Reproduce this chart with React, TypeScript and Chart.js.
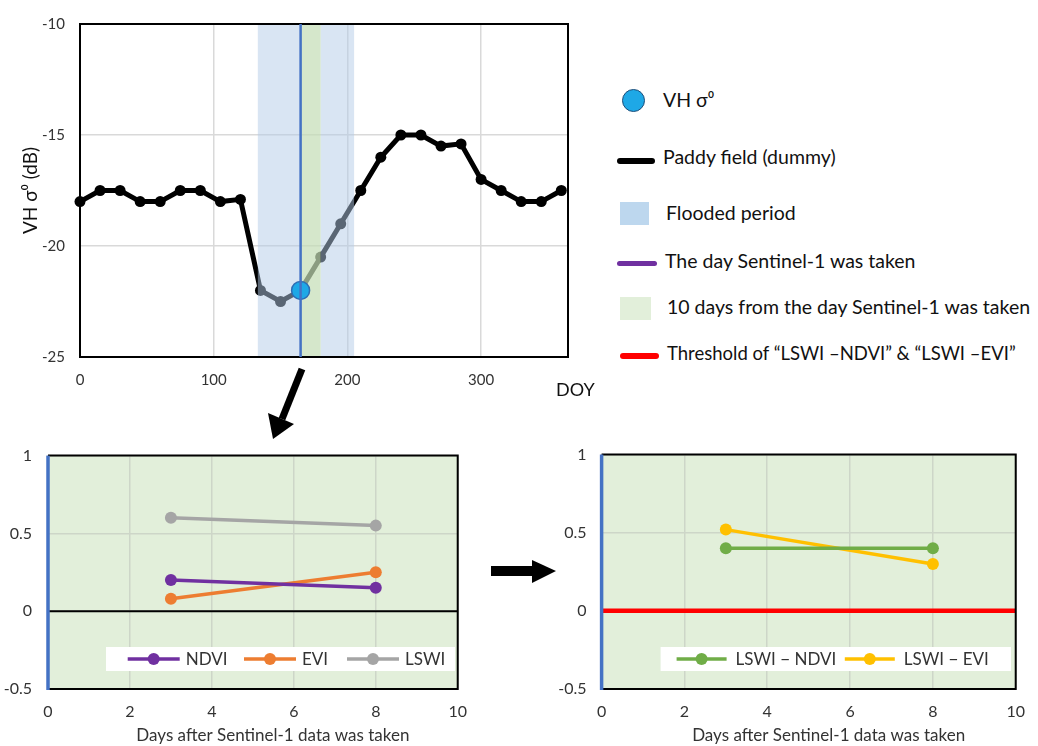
import React, { useEffect, useRef } from "react";
import { Chart, registerables } from "chart.js";

Chart.register(...registerables);

const FONT = "Lato, 'Open Sans', sans-serif";
Chart.defaults.font.family = FONT;

// ---- Top chart data ----
const doy = [0, 15, 30, 45, 60, 75, 90, 105, 120, 135, 150, 165, 180, 195, 210, 225, 240, 255, 270, 285, 300, 315, 330, 345, 360];
const paddyVH = [-18, -17.5, -17.5, -18, -18, -17.5, -17.5, -18, -17.9, -22, -22.5, -22, -20.5, -19, -17.5, -16, -15, -15, -15.5, -15.4, -17, -17.5, -18, -18, -17.5];
const sentinelDay = 165;
const sentinelVH = -22;
const floodStart = 133;
const floodEnd = 205;
const windowEnd = 180;
const topXRange = [0, 365];
const topYRange = [-25, -10];

// ---- Bottom charts data ----
const days = [3, 8];
const ndvi = [0.2, 0.15];
const evi = [0.08, 0.25];
const lswi = [0.6, 0.55];
const lswiMinusNdvi = [0.4, 0.4];
const lswiMinusEvi = [0.52, 0.3];
const threshold = 0;
const bottomXRange = [0, 10];
const bottomYRange = [-0.5, 1];
const bottomXTitle = "Days after Sentinel-1 data was taken";

const TICK_COLOR = "#333333";

const topOverlay = {
  id: "topOverlay",
  afterDatasetDraw(chart: any, args: any) {
    if (args.index !== 0) return;
    const { ctx, chartArea: a, scales } = chart;
    const x = scales.x;
    const band = (from: number, to: number, color: string) => {
      const x0 = x.getPixelForValue(from);
      const x1 = x.getPixelForValue(to);
      ctx.fillStyle = color;
      ctx.fillRect(x0, a.top, x1 - x0, a.bottom - a.top);
    };
    ctx.save();
    band(floodStart, sentinelDay, "rgba(180,203,231,0.5)");
    band(windowEnd, floodEnd, "rgba(180,203,231,0.5)");
    band(sentinelDay, windowEnd, "rgba(196,221,182,0.71)");
    ctx.strokeStyle = "#000";
    ctx.lineWidth = 2;
    ctx.strokeRect(a.left, a.top, a.right - a.left, a.bottom - a.top);
    ctx.restore();
  },
  afterDatasetsDraw(chart: any) {
    const { ctx, chartArea: a, scales } = chart;
    const xs = scales.x.getPixelForValue(sentinelDay);
    ctx.save();
    ctx.strokeStyle = "#4472c4";
    ctx.lineWidth = 2.5;
    ctx.beginPath();
    ctx.moveTo(xs, a.top);
    ctx.lineTo(xs, a.bottom);
    ctx.stroke();
    ctx.restore();
  },
};

const topConfig = (): any => ({
  type: "line",
  data: {
    datasets: [
      {
        label: "Paddy field (dummy)",
        data: doy.map((d, i) => ({ x: d, y: paddyVH[i] })),
        borderColor: "#000",
        backgroundColor: "#000",
        borderWidth: 5,
        pointRadius: 5.5,
        pointBorderWidth: 0,
        order: 2,
        clip: false,
      },
      {
        label: "VH σ⁰",
        data: [{ x: sentinelDay, y: sentinelVH }],
        showLine: false,
        pointRadius: 9,
        pointBorderWidth: 1.5,
        backgroundColor: "#1ea8e6",
        borderColor: "#2e6db4",
        order: 1,
        clip: false,
      },
    ],
  },
  options: {
    animation: false,
    responsive: false,
    layout: { padding: { top: 18, right: 32, left: 0, bottom: 0 } },
    plugins: { legend: { display: false }, tooltip: { enabled: false } },
    scales: {
      x: {
        type: "linear",
        min: topXRange[0],
        max: topXRange[1],
        ticks: { stepSize: 100, includeBounds: false, padding: 14, color: TICK_COLOR, font: { size: 15 } },
        grid: { color: "#d9d9d9", lineWidth: 1.5, drawTicks: false },
        border: { display: false },
        afterFit: (s: any) => {
          s.height = 43;
        },
      },
      y: {
        type: "linear",
        min: topYRange[0],
        max: topYRange[1],
        ticks: { stepSize: 5, padding: 15, color: TICK_COLOR, font: { size: 15 } },
        grid: { color: "#d9d9d9", lineWidth: 1.5, drawTicks: false },
        border: { display: false },
        title: {
          display: true,
          text: "VH σ⁰ (dB)",
          color: "#111",
          font: { size: 19 },
          padding: { top: 19, bottom: 0 },
        },
        afterFit: (s: any) => {
          s.width = 80;
        },
      },
    },
  },
  plugins: [topOverlay],
});

const indexFrame = {
  id: "indexFrame",
  beforeDraw(chart: any, _a: any, o: any) {
    const { ctx, chartArea: a } = chart;
    ctx.save();
    ctx.fillStyle = o.bg;
    ctx.fillRect(a.left, a.top, a.right - a.left, a.bottom - a.top);
    ctx.restore();
  },
  beforeDatasetsDraw(chart: any, _a: any, o: any) {
    const { ctx, chartArea: a, scales } = chart;
    ctx.save();
    const y0 = scales.y.getPixelForValue(threshold);
    ctx.strokeStyle = o.zeroColor;
    ctx.lineWidth = o.zeroWidth;
    ctx.beginPath();
    ctx.moveTo(a.left, y0);
    ctx.lineTo(a.right, y0);
    ctx.stroke();
    ctx.strokeStyle = "#000";
    ctx.lineWidth = 2;
    ctx.beginPath();
    ctx.moveTo(a.left, a.top);
    ctx.lineTo(a.right, a.top);
    ctx.lineTo(a.right, a.bottom);
    ctx.lineTo(a.left, a.bottom);
    ctx.stroke();
    const x0 = scales.x.getPixelForValue(bottomXRange[0]);
    ctx.strokeStyle = "#4472c4";
    ctx.lineWidth = 3.5;
    ctx.beginPath();
    ctx.moveTo(x0, a.top);
    ctx.lineTo(x0, a.bottom + 1);
    ctx.stroke();
    ctx.restore();
  },
  afterDatasetsDraw(chart: any, _a: any, o: any) {
    const { ctx, chartArea: a } = chart;
    const b = o.box;
    ctx.save();
    ctx.fillStyle = "#ffffff";
    ctx.fillRect(b.x, b.y, b.w, b.h);
    const cy = b.y + b.h / 2;
    ctx.font = `${o.fontSize}px ${FONT}`;
    ctx.textBaseline = "middle";
    ctx.textAlign = "left";
    chart.data.datasets.forEach((ds: any, i: number) => {
      const lx = b.x + o.itemX[i];
      ctx.strokeStyle = ds.borderColor;
      ctx.lineWidth = 3.5;
      ctx.beginPath();
      ctx.moveTo(lx, cy);
      ctx.lineTo(lx + o.lineLen, cy);
      ctx.stroke();
      ctx.fillStyle = ds.borderColor;
      ctx.beginPath();
      ctx.arc(lx + o.lineLen / 2, cy, 6, 0, Math.PI * 2);
      ctx.fill();
      ctx.fillStyle = TICK_COLOR;
      ctx.fillText(ds.label, lx + o.textOffset, cy + 1);
    });
    // x-axis title (slightly right of centre, as in the original)
    ctx.font = `17px ${FONT}`;
    ctx.textAlign = "center";
    ctx.fillStyle = TICK_COLOR;
    ctx.fillText(bottomXTitle, (a.left + a.right) / 2 + 20, chart.height - 10);
    ctx.restore();
  },
};

const indexConfig = (series: { label: string; values: number[]; color: string }[], opts: any): any => ({
  type: "line",
  data: {
    datasets: series.map((s) => ({
      label: s.label,
      data: days.map((d, i) => ({ x: d, y: s.values[i] })),
      borderColor: s.color,
      backgroundColor: s.color,
      borderWidth: 3.5,
      pointRadius: 6,
      pointBorderWidth: 0,
    })),
  },
  options: {
    animation: false,
    responsive: false,
    layout: { padding: { top: 20, right: opts.padRight, left: 0, bottom: 0 } },
    plugins: {
      legend: { display: false },
      tooltip: { enabled: false },
      indexFrame: {
        bg: "#e2efda",
        zeroColor: opts.zeroColor,
        zeroWidth: opts.zeroWidth,
        box: opts.box,
        itemX: opts.itemX,
        lineLen: opts.lineLen,
        textOffset: opts.textOffset,
        fontSize: opts.fontSize,
      },
    },
    scales: {
      x: {
        type: "linear",
        min: bottomXRange[0],
        max: bottomXRange[1],
        ticks: { stepSize: 2, padding: 13, color: TICK_COLOR, font: { size: 16 } },
        grid: { color: "#cdd6c8", lineWidth: 1.5, drawTicks: false },
        border: { display: false },
        afterFit: (s: any) => {
          s.height = 57;
        },
      },
      y: {
        type: "linear",
        min: bottomYRange[0],
        max: bottomYRange[1],
        ticks: {
          stepSize: 0.5,
          padding: opts.yPad,
          color: TICK_COLOR,
          font: { size: 16 },
          callback: (v: number) => String(v),
        },
        grid: { color: "#cdd6c8", lineWidth: 1.5, drawTicks: false },
        border: { display: false },
        afterFit: (s: any) => {
          s.width = opts.yWidth;
        },
      },
    },
  },
  plugins: [indexFrame],
});

function ChartCanvas({ left, top, width, height, config }: any) {
  const ref = useRef<HTMLCanvasElement>(null);
  useEffect(() => {
    const chart = new Chart(ref.current as HTMLCanvasElement, config());
    return () => chart.destroy();
  }, []);
  return (
    <canvas
      ref={ref}
      width={width}
      height={height}
      style={{ position: "absolute", left, top, width, height, display: "block" }}
    />
  );
}

const legendText: React.CSSProperties = {
  position: "absolute",
  fontFamily: FONT,
  fontSize: 19.5,
  color: "#111",
  whiteSpace: "nowrap",
  lineHeight: "22px",
  transform: "translateY(-50%)",
};

export default function App() {
  return (
    <div
      style={{
        position: "absolute",
        left: 0,
        top: 0,
        width: 1038,
        height: 746,
        background: "#fff",
        overflow: "hidden",
        fontFamily: FONT,
      }}
    >
      <ChartCanvas left={0} top={0} width={600} height={400} config={topConfig} />
      <div style={{ ...legendText, left: 556, top: 389, fontSize: 18 }}>DOY</div>

      {/* main legend */}
      <div
        style={{
          position: "absolute",
          left: 622,
          top: 89,
          width: 21,
          height: 21,
          borderRadius: "50%",
          background: "#1ea8e6",
          border: "1.5px solid #1f4e79",
        }}
      />
      <div style={{ ...legendText, left: 663, top: 100 }}>VH σ⁰</div>
      <div style={{ position: "absolute", left: 617, top: 158, width: 38, height: 6, borderRadius: 3, background: "#000" }} />
      <div style={{ ...legendText, left: 663, top: 157 }}>Paddy field (dummy)</div>
      <div style={{ position: "absolute", left: 620, top: 202, width: 29, height: 23, background: "#bdd7ee" }} />
      <div style={{ ...legendText, left: 666, top: 213 }}>Flooded period</div>
      <div style={{ position: "absolute", left: 617, top: 260.5, width: 40, height: 5, borderRadius: 3, background: "#7030a0" }} />
      <div style={{ ...legendText, left: 665, top: 261 }}>The day Sentinel-1 was taken</div>
      <div style={{ position: "absolute", left: 620, top: 297, width: 31, height: 23, background: "#e2efda" }} />
      <div style={{ ...legendText, left: 667, top: 307 }}>10 days from the day Sentinel-1 was taken</div>
      <div style={{ position: "absolute", left: 620, top: 353, width: 39, height: 6, borderRadius: 3, background: "#ff0000" }} />
      <div style={{ ...legendText, left: 667, top: 353, fontSize: 18.5 }}>Threshold of “LSWI –NDVI” &amp; “LSWI –EVI”</div>

      <ChartCanvas
        left={0}
        top={430}
        width={480}
        height={316}
        config={() =>
          indexConfig(
            [
              { label: "NDVI", values: ndvi, color: "#7030a0" },
              { label: "EVI", values: evi, color: "#ed7d31" },
              { label: "LSWI", values: lswi, color: "#a5a5a5" },
            ],
            {
              padRight: 17.5,
              yWidth: 48,
              yPad: 16,
              zeroColor: "#000",
              zeroWidth: 2,
              box: { x: 106, y: 217, w: 349, h: 24 },
              itemX: [21.7, 138, 241],
              lineLen: 52,
              textOffset: 58,
              fontSize: 17,
            }
          )
        }
      />
      <ChartCanvas
        left={540}
        top={430}
        width={498}
        height={316}
        config={() =>
          indexConfig(
            [
              { label: "LSWI − NDVI", values: lswiMinusNdvi, color: "#70ad47" },
              { label: "LSWI − EVI", values: lswiMinusEvi, color: "#ffc000" },
            ],
            {
              padRight: 20,
              yWidth: 61.6,
              yPad: 15,
              zeroColor: "#ff0000",
              zeroWidth: 4.5,
              box: { x: 120.6, y: 217, w: 350.4, h: 24 },
              itemX: [16, 184.2],
              lineLen: 50,
              textOffset: 59,
              fontSize: 17,
            }
          )
        }
      />

      <svg
        width={1038}
        height={746}
        style={{ position: "absolute", left: 0, top: 0, pointerEvents: "none" }}
      >
        <line x1={302} y1={369} x2={282} y2={419} stroke="#000" strokeWidth={7} />
        <polygon points="268,413 294,424 273,439" fill="#000" />
        <rect x={491} y={566} width={42} height={10} fill="#000" />
        <polygon points="532,560 556,571 532,583" fill="#000" />
      </svg>
    </div>
  );
}
